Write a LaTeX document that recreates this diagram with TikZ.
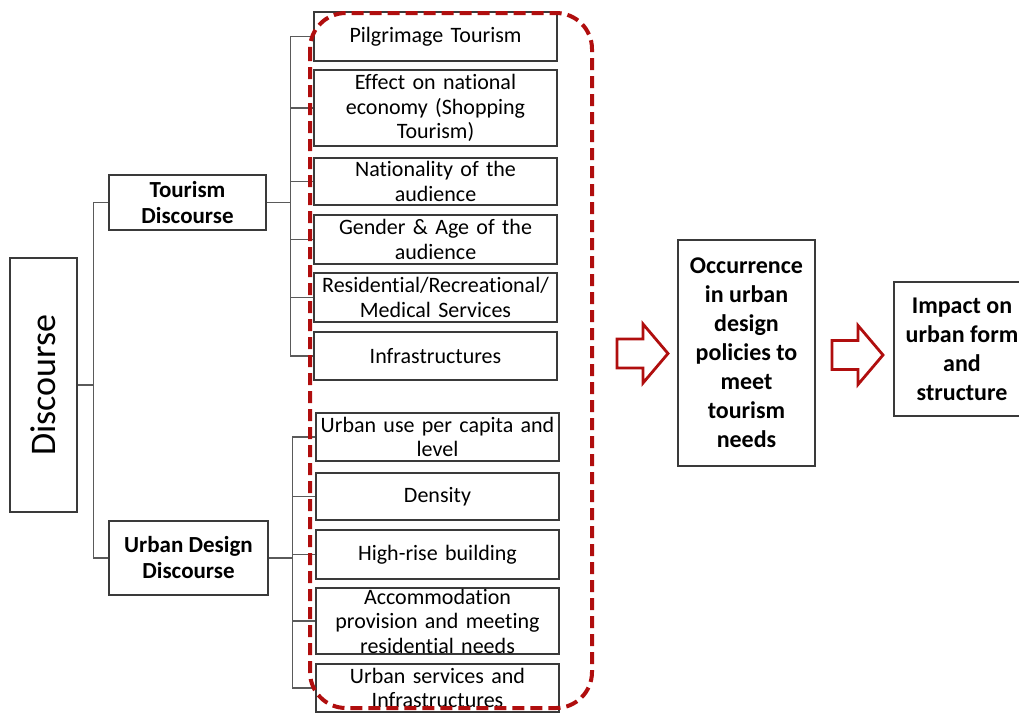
\documentclass[tikz,border=0pt]{standalone}
\usepackage{fontspec}
\setmainfont{Carlito}[Ligatures=NoCommon]
\usepackage{tikz}
\definecolor{boxedge}{HTML}{3A3A3A}
\definecolor{treeline}{HTML}{5A5A5A}
\definecolor{policyred}{HTML}{B00E0E}
\tikzstyle{itembox} =[
    draw=boxedge,
    fill=white,
    line width=1.2pt,
    rectangle,
    text width=239pt,
    align=center,
    inner xsep=2pt,
    inner ysep=0pt,
    font=\fontsize{22}{24.5}\selectfont
    ]
\tikzstyle{headbox} =[
    draw=boxedge,
    fill=white,
    line width=1.2pt,
    rectangle,
    align=center,
    inner sep=0pt,
    font=\fontsize{23}{26}\selectfont\bfseries
    ]
\tikzstyle{branch} =[
    draw=treeline,
    line width=1.2pt
    ]
\tikzstyle{flowarrow} =[
    draw=policyred,
    fill=white,
    line width=2.8pt,
    line join=miter
    ]
\tikzstyle{policyloop} =[
    draw=policyred,
    line width=4pt,
    dash pattern=on 12pt off 6pt,
    rounded corners=36pt
    ]
\newcommand{\blockarrow}[1]{% hollow arrow from its left middle
\draw[flowarrow] (#1) -- ++(0,-14.5) -- ++(26,0) -- ++(0,-15) -- ++(25,29.5)
    -- ++(-25,29.5) -- ++(0,-15) -- ++(-26,0) -- cycle;}

\begin{document}
\begin{tikzpicture}[x=1pt,y=-1pt]
\useasboundingbox (0,0) rectangle (1019,713);
\clip (0,0) rectangle (1019,713);

\node[headbox, rotate=90, minimum width=254pt, minimum height=67pt,
      font=\fontsize{36}{40}\selectfont] (disc) at (43.5,385) {Discourse};
\node[headbox, minimum width=157pt, minimum height=55pt] (tour) at (187.5,202.5) {Tourism\\Discourse};
\node[headbox, minimum width=159pt, minimum height=74pt] (urban) at (188.5,558) {Urban Design\\Discourse};

\node[itembox, minimum height=49pt] (pilg) at (435.5,36.5) {Pilgrimage Tourism};
\node[itembox, minimum height=76pt] (econ) at (435.5,108) {Effect on national\\economy (Shopping\\Tourism)};
\node[itembox, minimum height=47pt] (natn) at (435.5,181.5) {Nationality of the\\audience};
\node[itembox, minimum height=49pt] (gend) at (435.5,239.5) {Gender \& Age of the\\audience};
\node[itembox, minimum height=49pt] (resi) at (435.5,297.5) {Residential/Recreational/\\Medical Services};
\node[itembox, minimum height=48pt] (infra) at (435.5,356) {Infrastructures};

\node[itembox, minimum height=48pt] (use) at (437.5,437) {Urban use per capita and\\level};
\node[itembox, minimum height=47pt] (dens) at (437.5,496.5) {Density};
\node[itembox, minimum height=49pt] (rise) at (437.5,554.5) {High-rise building};
\node[itembox, minimum height=66pt] (accom) at (437.5,621) {Accommodation\\provision and meeting\\residential needs};
\node[itembox, minimum height=48pt] (serv) at (437.5,688) {Urban services and\\Infrastructures};

\draw[branch] (disc.south) -- ++(16,0) coordinate (dj);
\draw[branch] (dj) |- (tour.west);
\draw[branch] (dj) |- (urban.west);

\draw[branch] (tour.east) -- ++(24,0) coordinate (tj);
\foreach \item in {pilg,econ,natn,gend,resi,infra}
    \draw[branch] (tj) |- (\item.west);

\draw[branch] (urban.east) -- ++(24,0) coordinate (uj);
\foreach \item in {use,dens,rise,accom,serv}
    \draw[branch] (uj) |- (\item.west);

\draw[policyloop] (310,13) rectangle (592,708);

\node[headbox, minimum width=137pt, minimum height=226pt,
      font=\fontsize{24}{29}\selectfont\bfseries] (occur) at (746.5,353)
    {Occurrence\\in urban\\design\\policies to\\meet\\tourism\\needs};
\node[headbox, minimum width=136pt, minimum height=134pt,
      font=\fontsize{24}{29}\selectfont\bfseries] (impact) at (962,349)
    {Impact on\\urban form\\and\\structure};

\coordinate (arrowa) at (617,353.5);
\coordinate (arrowb) at (832,355);
\blockarrow{arrowa}
\blockarrow{arrowb}
\end{tikzpicture}
\end{document}
